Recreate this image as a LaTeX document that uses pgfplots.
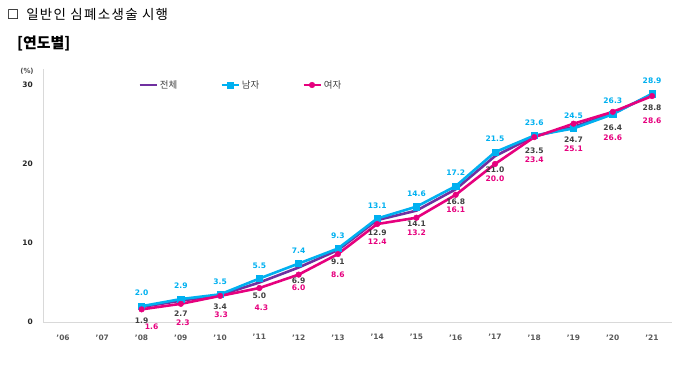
\documentclass[border=0pt]{standalone}
\usepackage{pgfplots}
\usepackage{pgfplotstable}
\pgfplotsset{compat=1.18}
\usepackage{fontspec}
\setmainfont{DejaVu Sans}
\newfontfamily\kr{Noto Sans CJK KR}
\newfontfamily\krt{Noto Sans CJK KR}[LetterSpace=10]
\newfontfamily\dv{DejaVu Sans}
\definecolor{ctotal}{HTML}{7030A0}
\definecolor{cmale}{HTML}{00B0F0}
\definecolor{cfemale}{HTML}{E6007E}
\definecolor{ltotal}{HTML}{404040}
\definecolor{axgray}{HTML}{D9D9D9}
\definecolor{tickgray}{HTML}{404040}
\pgfplotstableread{
x total male female ty fy fx
2008 1.9 2.0 1.6 13.7 19.7 10
2009 2.7 2.9 2.3 12.6 22 2
2010 3.4 3.5 3.3 11.5 20 1
2011 5.0 5.5 4.3 13 25 2
2012 6.9 7.4 6.0 13 20.5 0
2013 9.1 9.3 8.6 12 25 0
2014 12.9 13.1 12.4 13 22 0
2015 14.1 14.6 13.2 12.7 22 0
2016 16.8 17.2 16.1 12.4 20 0
2017 21.0 21.5 20.0 14 22.5 0
2018 23.5 23.6 23.4 14.4 23.7 0
2019 24.7 24.5 25.1 13 22 0
2020 26.4 26.3 26.6 14 24 0
2021 28.8 28.9 28.6 13 26 0
}\data
\begin{document}
\begin{tikzpicture}
\useasboundingbox (0,0) rectangle (680bp,366bp);
\node[anchor=west, inner sep=0pt] at (7bp,352bp) {\fontsize{13.5}{13.5}\selectfont{\dv ☐}\hspace{7bp}{\krt 일반인 심폐소생술 시행}};
\node[anchor=west, inner sep=0pt] at (17bp,322bp) {\kr\bfseries\fontsize{15}{15}\selectfont [연도별]};
\begin{axis}[
  scale only axis, width=628.3bp, height=252.8bp,
  at={(43.4bp,44bp)}, anchor=south west,
  xmin=2005.5, xmax=2021.5, ymin=0, ymax=32,
  axis x line*=bottom, axis y line*=left,
  axis line style={draw=axgray, line width=0.8bp},
  major tick length=0pt,
  ytick={0,10,20,30},
  xtick={2006,...,2021},
  xticklabels={’06,’07,’08,’09,’10,’11,’12,’13,’14,’15,’16,’17,’18,’19,’20,’21},
  /pgf/number format/assume math mode=true,
  tick label style={font=\bfseries\fontsize{7.5}{7.5}\selectfont, text=tickgray},
  yticklabel style={xshift=-7bp, text=black!85},
  xticklabel style={yshift=-9bp, text=black!65},
  clip=false,
  legend style={at={(0.1506,0.9375)}, anchor=west, draw=none, fill=none, inner sep=0pt,
    font=\kr\fontsize{9.5}{10}\selectfont, text=ltotal,
    /tikz/every even column/.append style={column sep=41bp}},
  legend columns=3,
  legend cell align=left,
  nodes near coords style={font=\bfseries\fontsize{7.6}{7.6}\selectfont, anchor=center},
]
\addplot[color=ctotal, line width=2.6bp, mark=none,
  nodes near coords, point meta=explicit symbolic,
  visualization depends on={\thisrow{ty}\as\ty},
  nodes near coords style={yshift=-\ty*1bp, text=ltotal}]
  table[x=x, y=total, meta=total]{\data};
\addlegendentry{전체}
\addplot[color=cmale, line width=2.6bp, mark=square*, mark size=3.1bp,
  mark options={solid, fill=cmale, line width=0.5bp},
  nodes near coords, point meta=explicit symbolic,
  nodes near coords style={yshift=13bp, text=cmale}]
  table[x=x, y=male, meta=male]{\data};
\addlegendentry{남자}
\addplot[color=cfemale, line width=2.6bp, mark=*, mark size=2.8bp,
  mark options={solid, fill=cfemale, line width=0.5bp}]
  table[x=x, y=female]{\data};
\addlegendentry{여자}
\addplot[draw=none, mark=none, forget plot,
  nodes near coords, point meta=explicit symbolic,
  visualization depends on={\thisrow{fy}\as\fy},
  visualization depends on={\thisrow{fx}\as\fx},
  nodes near coords style={yshift=-\fy*1bp, xshift=\fx*1bp, text=cfemale}]
  table[x=x, y=total, meta=female]{\data};
\end{axis}
\node[inner sep=0pt, font=\bfseries\fontsize{7}{7}\selectfont, text=black!70] at (27bp,295bp) {(\%)};
\end{tikzpicture}
\end{document}
